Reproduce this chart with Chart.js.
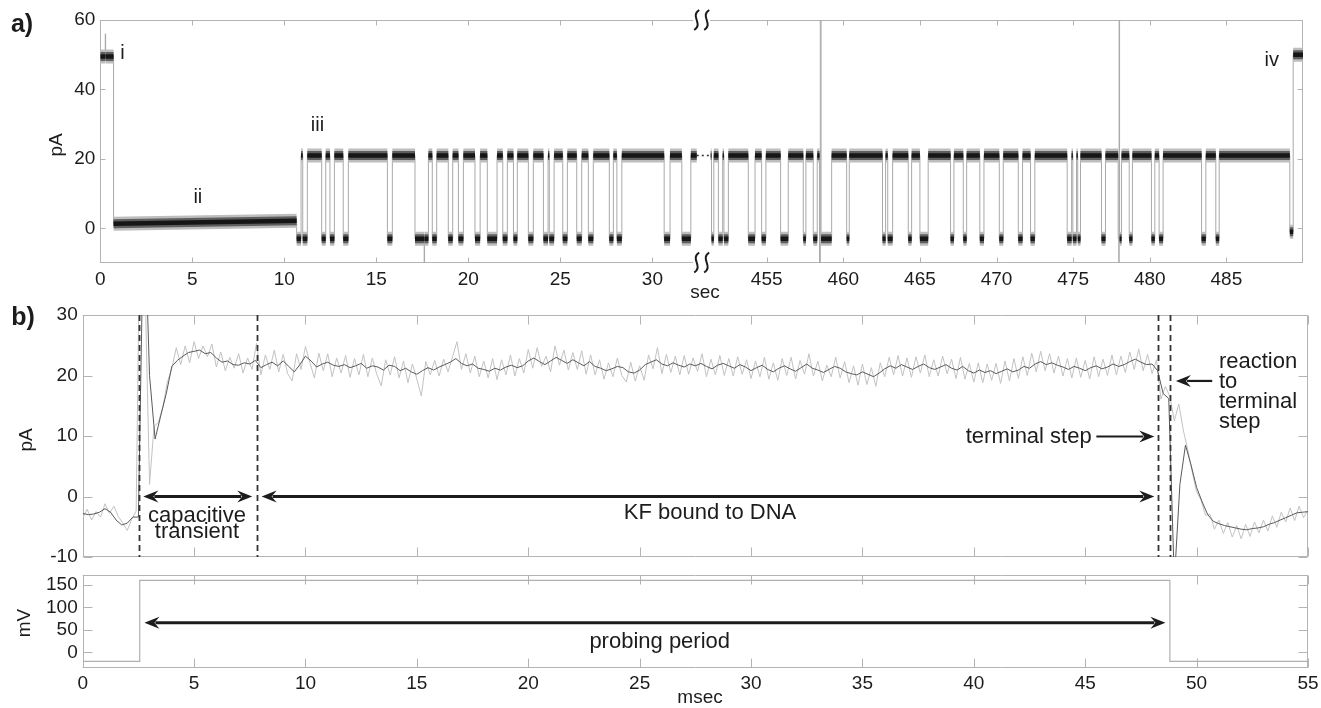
<!DOCTYPE html>
<html>
<head>
<meta charset="utf-8">
<script src="https://cdn.jsdelivr.net/npm/chart.js@4.4.1/dist/chart.umd.min.js"></script>
<style>
  html, body { margin: 0; padding: 0; background: #fff; }
  #wrap { position: relative; width: 1321px; height: 708px; overflow: hidden; }
  canvas { position: absolute; }
</style>
</head>
<body>
<div id="wrap">
  <canvas id="aLeft" width="702" height="305" style="left:0px;top:0px"></canvas>
  <canvas id="aRight" width="641" height="305" style="left:680px;top:0px"></canvas>
  <canvas id="bTop" width="1321" height="270" style="left:0px;top:300px"></canvas>
  <canvas id="bBottom" width="1321" height="148" style="left:0px;top:560px"></canvas>
</div>
<script>
// ---- panel a: current level changes, [sec, pA, (pA at end if it drifts)]
const leftSteps = [
  [0, 49.5], [0.27, 56], [0.29, 49.5], [0.72, 1.3, 2.2],
  [10.67, -3], [10.91, 21], [11.0, -3], [11.25, 21], [12.03, -3], [12.25, 21], [12.48, -3],
  [12.72, 21], [13.2, -3], [13.48, 21], [15.6, -3], [15.87, 21], [17.1, -3], [17.6, -14],
  [17.62, -3], [17.83, 21], [18.04, -3], [18.28, 21], [18.91, -3], [19.15, 21], [19.46, -3],
  [19.73, 21], [20.36, -3], [20.64, 21], [21.03, -3], [21.56, 21], [21.87, -3], [22.12, 21],
  [22.45, -3], [22.66, 21], [23.26, -3], [23.53, 21], [24.08, -3], [24.33, 21], [24.4, -3],
  [24.66, 21], [25.13, -3], [25.38, 21], [25.89, -3], [26.16, 21], [26.52, -3], [26.79, 21],
  [27.66, -3], [27.88, 21], [28.07, -3], [28.34, 21], [30.64, -3], [30.96, 21], [31.6, -3],
  [32.09, 21], [32.41, 21]
];
const rightSteps = [
  [451.35, 21], [451.4, -3], [451.55, 21], [451.85, -3], [452.13, 21], [452.21, -3], [452.5, 21],
  [453.8, -3], [454.24, 21], [454.67, -3], [454.95, 21], [455.91, -3], [456.41, 21], [457.39, -3],
  [457.56, 21], [458.04, -3], [458.3, 21], [458.45, -20], [458.5, 75], [458.55, -3], [459.24, 21],
  [460.22, -3], [460.39, 21], [462.56, -3], [462.76, 21], [462.9, -3], [463.22, 21], [464.24, -3],
  [464.46, 21], [465.0, -3], [465.54, 21], [467.0, -3], [467.22, 21], [467.83, -3], [468.05, 21],
  [468.91, -3], [469.18, 21], [470.18, -3], [470.44, 21], [471.42, -3], [471.7, 21], [472.22, -3],
  [472.5, 21], [474.61, -3], [474.9, 21], [474.98, -3], [475.22, 21], [475.3, -3], [475.48, 21],
  [476.85, -3], [477.11, 21], [477.94, -3], [477.98, -20], [478.0, 75], [478.03, -3], [478.16, 21],
  [478.66, -3], [478.87, 21], [480.11, -3], [480.33, 21], [480.61, -3], [480.87, 21], [483.38, -3],
  [483.66, 21], [484.31, -3], [484.53, 21], [489.14, -1], [489.36, 50], [490.0, 50]
];
const breakDots = [32.41, 451.35];   // dotted join across the axis break
const dotLevel = 21;
const aLeftTicks = [0, 5, 10, 15, 20, 25, 30];
const aRightTicks = [455, 460, 465, 470, 475, 480, 485];
const aYTicks = [0, 20, 40, 60];

// ---- panel b: current (pA), raw every 0.2 ms and filtered every 0.25 ms, from 0 ms
const rawStep = 0.2;
const rawPA = [
  -3.6, -2.1, -3.9, -2.5, -3.4,
  -1.2, -2.8, -1.6, -3.3, -4.4,
  -5.6, -3.8, -2.4, 55, 35,
  2.0, 11.5, 12.3, 14.8, 18.9,
  21.2, 24.6, 21.8, 24.9, 22.1,
  25.6, 22.8, 24.9, 23.1, 25.2,
  21.4, 23.9, 20.8, 23.0, 21.2,
  23.6, 20.4, 22.9, 21.0, 25.3,
  20.1, 23.4, 21.0, 24.2, 20.6,
  23.5, 20.3, 19.1, 23.6, 21.0,
  24.8, 22.1, 19.6, 23.7, 20.8,
  23.6, 19.8, 22.9, 20.4, 23.3,
  19.7, 22.8, 20.1, 23.5, 19.8,
  22.9, 20.2, 18.3, 22.6, 20.1,
  23.1, 19.6, 22.4, 18.8, 21.9,
  19.4, 16.6, 22.3, 20.1, 22.5,
  19.9, 22.7, 20.6, 23.1, 25.6,
  21.0, 23.6, 20.4, 23.2, 19.8,
  22.4, 19.6, 22.8, 19.3, 22.6,
  20.1, 23.4, 19.9, 22.8, 20.4,
  24.3, 21.2, 24.6, 21.5, 23.2,
  20.6, 24.9, 21.7, 24.2, 20.9,
  23.8, 21.0, 24.1, 20.2, 23.4,
  20.1, 22.6, 19.4, 22.1, 19.8,
  22.9, 20.0, 18.9, 22.2, 19.1,
  21.6, 19.2, 23.4, 21.1, 24.6,
  20.3, 23.5, 20.5, 23.2, 20.1,
  23.3, 20.2, 22.9, 20.7, 23.6,
  19.8, 22.7, 20.1, 23.3, 20.0,
  22.8, 19.9, 23.1, 20.2, 22.6,
  19.5, 22.4, 19.8, 23.0, 19.4,
  22.1, 19.2, 22.8, 20.0, 23.0,
  19.4, 22.5, 20.2, 23.6, 19.9,
  22.4, 19.1, 21.7, 19.8, 23.0,
  19.6, 22.3, 18.8, 21.6, 18.4,
  21.9, 18.5, 21.3, 18.2, 22.1,
  19.8, 23.0, 20.1, 23.3, 19.9,
  22.9, 19.7, 23.1, 20.4, 23.4,
  19.8, 22.6, 19.9, 23.2, 20.3,
  22.7, 19.5, 23.0, 19.4, 22.0,
  18.9, 22.1, 18.8, 21.9, 19.2,
  22.0, 18.7, 22.4, 19.1, 22.8,
  19.5, 23.1, 20.0, 23.7, 20.6,
  24.0, 20.8, 23.6, 20.4, 23.2,
  19.9, 22.8, 19.6, 22.9, 19.7,
  22.5, 19.4, 23.1, 19.8, 22.7,
  20.0, 23.4, 20.1, 23.2, 20.5,
  23.9, 21.0, 24.4, 20.8, 23.5,
  20.3, 22.6, 16.1, 18.2, 16.5,
  12.5, 15.3, 11.0, 7.8, 4.1,
  0.8, -0.6, -3.1, -2.9, -5.4,
  -3.9, -6.1, -4.3, -6.7, -4.8,
  -7.0, -4.6, -6.6, -4.2, -6.0,
  -3.9, -5.7, -3.2, -5.1, -2.6,
  -4.2, -1.9, -4.0, -1.6, -3.5,
  -2.2
];
const smoothStep = 0.25;
const smoothPA = [
  -2.8, -3.0, -2.9, -2.6,
  -2.0, -2.6, -3.9, -4.7,
  -4.4, -3.4, -3.4, 50,
  20, 9.5, 13.3, 17.0,
  21.5, 22.5, 23.2, 23.8,
  24.0, 24.2, 23.6, 23.8,
  22.9, 22.2, 22.4, 21.8,
  21.7, 22.1, 21.9, 22.5,
  21.3, 21.8, 22.2, 21.6,
  22.4, 21.5, 20.6, 21.8,
  23.2, 22.4, 21.4, 21.9,
  22.2, 21.7, 21.5, 21.8,
  21.3, 21.6, 22.0, 21.2,
  21.6, 21.4, 20.9, 21.7,
  21.5, 20.8, 21.2, 20.6,
  20.2, 20.8, 21.3, 20.9,
  21.4, 21.8, 22.2, 22.8,
  22.0, 21.6, 21.9, 21.2,
  21.0, 20.7, 21.2, 20.9,
  21.4, 21.7, 21.3, 21.6,
  22.4, 22.9, 22.3, 21.8,
  22.4, 23.0, 22.5, 22.0,
  22.6, 22.1, 21.6, 22.3,
  21.5, 21.2, 20.8, 21.1,
  21.5, 21.3, 20.6, 20.4,
  20.9, 21.8, 22.2, 22.6,
  21.9, 21.6, 22.1, 21.7,
  21.4, 21.9, 21.6, 22.0,
  21.5, 21.1, 21.7, 22.0,
  21.6, 21.2, 21.8, 21.4,
  20.8, 21.3, 21.7, 21.0,
  20.6, 21.2, 21.6, 21.1,
  20.7, 21.3, 21.9, 21.2,
  20.9, 20.5, 21.0, 21.5,
  21.2, 20.6, 20.3, 20.1,
  20.6, 20.2, 19.8, 20.4,
  21.1, 21.6, 21.2, 21.8,
  21.4, 21.0, 21.5, 21.9,
  21.3, 21.0, 21.4, 21.8,
  21.2, 20.9, 21.5, 20.8,
  20.4, 20.9, 20.5, 20.8,
  20.3, 20.7, 21.1, 20.6,
  20.9, 21.5, 21.2, 21.9,
  22.3, 21.8, 22.1, 21.7,
  21.4, 21.0, 21.5, 21.2,
  20.8, 21.3, 21.6, 21.1,
  21.4, 21.9, 21.5, 21.8,
  22.3, 22.7, 22.2, 21.8,
  21.9, 20.8, 17.0, 16.2,
  -14, 2.0, 8.5, 5.2,
  1.5, -0.9, -3.0, -4.1,
  -4.5, -4.8, -5.0, -5.2,
  -5.4, -5.5, -5.3, -5.2,
  -5.0, -4.6, -4.3, -3.9,
  -3.5, -3.1, -2.7, -2.6,
  -2.5
];
const voltMs = [0, 2.56, 2.56, 48.8, 48.8, 55];
const voltMV = [-20, -20, 160, 160, -20, -20];
const markerMs = [2.54, 7.81, 48.27, 48.8];
const bXTicks = [0, 5, 10, 15, 20, 25, 30, 35, 40, 45, 50, 55];
const bYTicks = [-10, 0, 10, 20, 30];
const vYTicks = [0, 50, 100, 150];

const FONT = '"Liberation Sans", Arial, Helvetica, sans-serif';
const INK = '#1c1c1c';
const FRAME = '#b4b4b4';

// box round the plot with MATLAB style inward ticks
const framePlugin = {
  id: 'frame',
  beforeDatasetsDraw(chart, args, o) {
    const { ctx, chartArea: a, scales } = chart;
    const L = Math.round(a.left) + 0.5, R = Math.round(a.right) - 0.5;
    const T = Math.round(a.top) + 0.5, B = Math.round(a.bottom) - 0.5;
    ctx.save();
    ctx.strokeStyle = FRAME;
    ctx.lineWidth = 1;
    ctx.beginPath();
    ctx.moveTo(a.left, T); ctx.lineTo(a.right, T);
    ctx.moveTo(a.left, B); ctx.lineTo(a.right, B);
    if (o.left) { ctx.moveTo(L, a.top); ctx.lineTo(L, a.bottom); }
    if (o.right) { ctx.moveTo(R, a.top); ctx.lineTo(R, a.bottom); }
    o.xt.forEach(v => {
      const x = Math.round(scales.x.getPixelForValue(v)) + 0.5;
      ctx.moveTo(x, T); ctx.lineTo(x, T + o.len);
      ctx.moveTo(x, B); ctx.lineTo(x, B - o.len);
    });
    o.yt.forEach(v => {
      const y = Math.round(scales.y.getPixelForValue(v)) + 0.5;
      if (o.left) { ctx.moveTo(L, y); ctx.lineTo(L + o.len, y); }
      if (o.right) { ctx.moveTo(R, y); ctx.lineTo(R - o.len, y); }
    });
    ctx.stroke();
    ctx.restore();
  }
};

function text(ctx, s, x, y, size, opt = {}) {
  ctx.save();
  ctx.font = (opt.bold ? 'bold ' : '') + size + 'px ' + FONT;
  ctx.fillStyle = INK;
  ctx.textAlign = opt.align || 'center';
  ctx.textBaseline = 'middle';
  if (opt.rotate) {
    ctx.translate(x, y);
    ctx.rotate(-Math.PI / 2);
    ctx.fillText(s, 0, 0);
  } else {
    ctx.fillText(s, x, y);
  }
  ctx.restore();
}

function head(ctx, x, y, dir) {
  ctx.beginPath();
  ctx.moveTo(x, y);
  ctx.lineTo(x - dir * 15, y - 6);
  ctx.lineTo(x - dir * 10, y);
  ctx.lineTo(x - dir * 15, y + 6);
  ctx.closePath();
  ctx.fill();
}

// horizontal arrow between xa and xb, heads: 'a', 'b' or 'ab'
function arrow(ctx, xa, xb, y, w, heads) {
  ctx.save();
  ctx.strokeStyle = INK;
  ctx.fillStyle = INK;
  ctx.lineWidth = w;
  ctx.beginPath();
  ctx.moveTo(heads.includes('a') ? xa + 11 : xa, y);
  ctx.lineTo(heads.includes('b') ? xb - 11 : xb, y);
  ctx.stroke();
  if (heads.includes('a')) head(ctx, xa, y, -1);
  if (heads.includes('b')) head(ctx, xb, y, 1);
  ctx.restore();
}

function squiggle(ctx, cx, cy) {
  ctx.beginPath();
  ctx.moveTo(cx + 2.5, cy - 10);
  ctx.bezierCurveTo(cx - 7, cy - 4, cx + 7, cy + 4, cx - 2.5, cy + 10);
  ctx.stroke();
}

// flat pieces of the trace, with gaps at the level changes
function bandPoints(steps) {
  const pts = [];
  for (let i = 0; i < steps.length - 1; i++) {
    const s = steps[i], end = s.length > 2 ? s[2] : s[1];
    pts.push({ x: s[0], y: s[1] }, { x: steps[i + 1][0], y: end }, { x: steps[i + 1][0], y: null });
  }
  return pts;
}
const stepPoints = steps => steps.map(s => ({ x: s[0], y: s[1] }));
const series = (vals, step) => vals.map((v, i) => ({ x: +(i * step).toFixed(2), y: v }));

function makeChart(id, datasets, c, notes) {
  return new Chart(document.getElementById(id), {
    type: 'line',
    data: { datasets },
    options: {
      responsive: false,
      animation: false,
      devicePixelRatio: 1,
      events: [],
      layout: { padding: c.pad },
      elements: { point: { radius: 0 }, line: { tension: 0 } },
      plugins: {
        legend: { display: false },
        tooltip: { enabled: false },
        frame: { left: c.left, right: c.right, len: c.len, xt: c.xt, yt: c.yt }
      },
      scales: {
        x: {
          type: 'linear', min: c.x[0], max: c.x[1],
          afterBuildTicks: s => { s.ticks = c.xt.map(v => ({ value: v })); },
          afterFit: s => { s.height = c.xh; s.paddingLeft = 0; s.paddingRight = 0; },
          grid: { display: false, drawTicks: false },
          border: { display: false },
          ticks: { display: c.xLabels, autoSkip: false, maxRotation: 0, padding: 5, color: INK, font: { family: FONT, size: 19 } }
        },
        y: {
          type: 'linear', display: c.yw > 0, min: c.y[0], max: c.y[1],
          afterBuildTicks: s => { s.ticks = c.yt.map(v => ({ value: v })); },
          afterFit: s => { s.width = c.yw; s.paddingTop = 0; s.paddingBottom = 0; },
          grid: { display: false, drawTicks: false },
          border: { display: false },
          ticks: { autoSkip: false, padding: 5, color: INK, font: { family: FONT, size: 19 } }
        }
      }
    },
    plugins: [framePlugin, { id: 'notes', afterDraw: notes }]
  });
}

function traceSets(steps, dots) {
  return [
    { data: bandPoints(steps), borderColor: '#161616', borderWidth: 4.5, spanGaps: false },
    { data: bandPoints(steps), borderColor: '#5e5e5e', borderWidth: 9, spanGaps: false },
    { data: bandPoints(steps), borderColor: '#bdbdbd', borderWidth: 14, spanGaps: false },
    { data: stepPoints(steps), borderColor: '#a9a9a9', borderWidth: 1, stepped: true },
    { data: dots.map(x => ({ x, y: dotLevel })), borderColor: '#333', borderWidth: 1.5, borderDash: [2, 3] }
  ];
}

// ---- panel a, left of the break
makeChart('aLeft', traceSets(leftSteps, [breakDots[0], 40]), {
  pad: { left: 0, right: 0.3, top: 20, bottom: 0 }, x: [0, 32.68], y: [-10, 60],
  xt: aLeftTicks, yt: aYTicks, xh: 42, yw: 100.3, xLabels: true, left: true, right: false, len: 5
}, chart => {
  const { ctx, scales: { x, y } } = chart;
  text(ctx, 'a)', 22, 25, 25, { bold: true });
  text(ctx, 'pA', 57, 145, 19, { rotate: true });
  text(ctx, 'i', x.getPixelForValue(1.2), y.getPixelForValue(50.4), 20);
  text(ctx, 'ii', x.getPixelForValue(5.3), y.getPixelForValue(8.9), 20);
  text(ctx, 'iii', x.getPixelForValue(11.8), y.getPixelForValue(29.7), 20);
});

// ---- panel a, right of the break
makeChart('aRight', traceSets(rightSteps, [440, breakDots[1]]), {
  pad: { left: 21.7, right: 18, top: 20, bottom: 0 }, x: [450.76, 490], y: [-10, 60],
  xt: aRightTicks, yt: aYTicks, xh: 42, yw: 0, xLabels: true, left: false, right: true, len: 5
}, chart => {
  const { ctx, chartArea: a, scales: { x, y } } = chart;
  text(ctx, 'iv', x.getPixelForValue(487.96), y.getPixelForValue(48.4), 20);
  text(ctx, 'sec', 25, 293, 19);
  ctx.save();
  ctx.fillStyle = '#fff';
  ctx.fillRect(13, a.top - 2, 17, 4);
  ctx.fillRect(13, a.bottom - 2, 17, 4);
  ctx.strokeStyle = INK;
  ctx.lineWidth = 2;
  [16.7, 26.7].forEach(cx => { squiggle(ctx, cx, a.top); squiggle(ctx, cx, a.bottom - 0.5); });
  ctx.restore();
});

// ---- panel b, current
makeChart('bTop', [
  { data: series(smoothPA, smoothStep), borderColor: '#5a5a5a', borderWidth: 1, clip: 0 },
  { data: series(rawPA, rawStep), borderColor: '#c2c2c2', borderWidth: 1, clip: 0 }
], {
  pad: { left: 0, right: 13, top: 15, bottom: 0 }, x: [0, 55], y: [-10, 30],
  xt: bXTicks, yt: bYTicks, xh: 13, yw: 82.7, xLabels: false, left: true, right: true, len: 9
}, chart => {
  const { ctx, chartArea: a, scales: { x, y } } = chart;
  text(ctx, 'b)', 23, 18, 25, { bold: true });
  text(ctx, 'pA', 27, 140, 19, { rotate: true });
  ctx.save();
  ctx.strokeStyle = '#333';
  ctx.lineWidth = 1.8;
  ctx.setLineDash([6, 4]);
  markerMs.forEach(t => {
    const px = Math.round(x.getPixelForValue(t)) + 0.5;
    ctx.beginPath(); ctx.moveTo(px, a.top); ctx.lineTo(px, a.bottom); ctx.stroke();
  });
  ctx.restore();
  const y0 = y.getPixelForValue(0);
  arrow(ctx, x.getPixelForValue(2.72), x.getPixelForValue(7.61), y0, 3, 'ab');
  arrow(ctx, x.getPixelForValue(8.03), x.getPixelForValue(48.1), y0, 3, 'ab');
  text(ctx, 'capacitive', x.getPixelForValue(5.13), y.getPixelForValue(-3.2), 22);
  text(ctx, 'transient', x.getPixelForValue(5.13), y.getPixelForValue(-5.8), 22);
  text(ctx, 'KF bound to DNA', x.getPixelForValue(28.16), y.getPixelForValue(-2.74), 22);
  text(ctx, 'terminal step', x.getPixelForValue(45.29), y.getPixelForValue(9.92), 22, { align: 'right' });
  arrow(ctx, x.getPixelForValue(45.5), x.getPixelForValue(48.1), y.getPixelForValue(9.92), 2.2, 'b');
  arrow(ctx, x.getPixelForValue(49.07), x.getPixelForValue(50.7), y.getPixelForValue(19.1), 2.2, 'a');
  const lx = x.getPixelForValue(51.0);
  [['reaction', 22.3], ['to', 19.0], ['terminal', 15.7], ['step', 12.4]].forEach(([s, v]) => {
    text(ctx, s, lx, y.getPixelForValue(v), 22, { align: 'left' });
  });
});

// ---- panel b, applied voltage
makeChart('bBottom', [
  { data: voltMs.map((t, i) => ({ x: t, y: voltMV[i] })), borderColor: '#b0b0b0', borderWidth: 1.2 }
], {
  pad: { left: 0, right: 13, top: 15, bottom: 0 }, x: [0, 55], y: [-34, 172],
  xt: bXTicks, yt: vYTicks, xh: 40.3, yw: 82.7, xLabels: true, left: true, right: true, len: 9
}, chart => {
  const { ctx, scales: { x, y } } = chart;
  text(ctx, 'mV', 25, 63, 19, { rotate: true });
  text(ctx, 'msec', 700, 138, 19);
  arrow(ctx, x.getPixelForValue(2.77), x.getPixelForValue(48.6), y.getPixelForValue(66), 3, 'ab');
  text(ctx, 'probing period', x.getPixelForValue(25.9), y.getPixelForValue(23.8), 22);
});
</script>
</body>
</html>
